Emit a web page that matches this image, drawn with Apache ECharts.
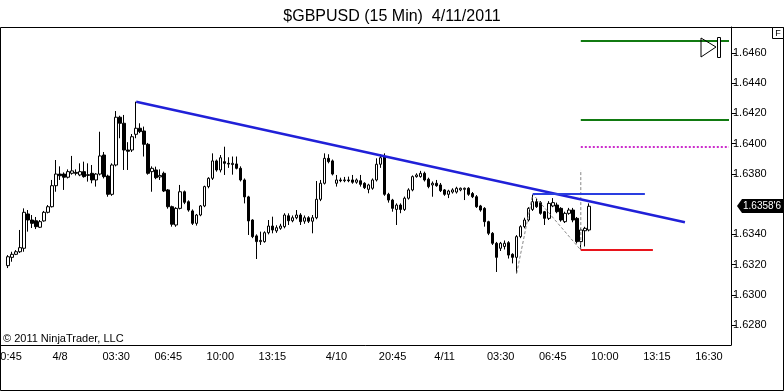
<!DOCTYPE html>
<html><head><meta charset="utf-8">
<script src="https://cdn.jsdelivr.net/npm/echarts@6/dist/echarts.min.js"></script>
<style>html,body{margin:0;padding:0;background:#fff}#c{width:784px;height:391px}</style>
</head><body><div id="c"></div>
<script>
// 15-minute sessions (day, first bar, last bar)
const sessionSpans = [['4/7','20:15','23:45'],['4/8','00:00','17:00'],['4/10','17:15','23:45'],['4/11','00:00','17:45']];
const firstCandle = '4/7 20:45';
const opens = [1.63193,1.63248,1.63268,1.63285,1.63308,1.63535,1.63495,1.63490,1.63447,1.63489,
1.63546,1.63583,1.63722,1.63799,1.63799,1.63778,1.63804,1.63810,1.63793,1.63815,
1.63790,1.63804,1.63760,1.63799,1.63925,1.63786,1.63665,1.63859,1.64175,1.64135,
1.63958,1.63958,1.64062,1.64102,1.64084,1.63996,1.63815,1.63826,1.63780,1.63804,
1.63694,1.63583,1.63462,1.63572,1.63682,1.63616,1.63555,1.63473,1.63528,1.63588,
1.63716,1.63771,1.63886,1.63826,1.63881,1.63870,1.63862,1.63866,1.63837,1.63760,
1.63648,1.63495,1.63390,1.63352,1.63352,1.63411,1.63455,1.63423,1.63440,1.63451,
1.63523,1.63490,1.63510,1.63528,1.63487,1.63510,1.63487,1.63510,1.63632,1.63738,
1.63903,1.63886,1.63738,1.63760,1.63755,1.63760,1.63760,1.63745,1.63755,1.63738,
1.63698,1.63705,1.63760,1.63864,1.63914,1.63665,1.63627,1.63565,1.63594,1.63565,
1.63639,1.63694,1.63782,1.63782,1.63804,1.63765,1.63727,1.63738,1.63727,1.63694,
1.63665,1.63680,1.63680,1.63694,1.63698,1.63705,1.63670,1.63649,1.63588,1.63572,
1.63484,1.63407,1.63341,1.63308,1.63320,1.63345,1.63268,1.63248,1.63385,1.63451,
1.63495,1.63565,1.63616,1.63610,1.63550,1.63506,1.63588,1.63594,1.63572,1.63484,
1.63539,1.63561,1.63506,1.63352,1.63424,1.63429];
const closes = [1.63252,1.63268,1.63285,1.63312,1.63546,1.63495,1.63473,1.63451,1.63484,1.63546,
1.63583,1.63722,1.63799,1.63788,1.63778,1.63815,1.63820,1.63804,1.63815,1.63782,
1.63795,1.63760,1.63799,1.63919,1.63782,1.63665,1.63859,1.64175,1.64135,1.63958,
1.63950,1.64046,1.64102,1.64080,1.63996,1.63804,1.63837,1.63775,1.63790,1.63687,
1.63583,1.63467,1.63572,1.63682,1.63612,1.63561,1.63473,1.63528,1.63588,1.63716,
1.63771,1.63886,1.63826,1.63907,1.63870,1.63865,1.63870,1.63837,1.63760,1.63648,
1.63489,1.63385,1.63352,1.63360,1.63411,1.63455,1.63429,1.63444,1.63455,1.63528,
1.63490,1.63510,1.63528,1.63484,1.63510,1.63487,1.63510,1.63632,1.63738,1.63903,
1.63881,1.63799,1.63760,1.63755,1.63760,1.63755,1.63745,1.63760,1.63731,1.63709,
1.63727,1.63760,1.63864,1.63907,1.63665,1.63627,1.63572,1.63594,1.63565,1.63639,
1.63694,1.63782,1.63793,1.63804,1.63760,1.63716,1.63738,1.63722,1.63689,1.63665,
1.63687,1.63694,1.63705,1.63705,1.63705,1.63665,1.63649,1.63583,1.63561,1.63484,
1.63407,1.63341,1.63248,1.63341,1.63341,1.63263,1.63248,1.63385,1.63451,1.63495,
1.63572,1.63616,1.63583,1.63539,1.63506,1.63605,1.63610,1.63550,1.63495,1.63539,
1.63561,1.63495,1.63352,1.63429,1.63440,1.63586];
const lows = [1.63177,1.63219,1.63263,1.63277,1.63285,1.63418,1.63442,1.63435,1.63442,1.63484,
1.63539,1.63578,1.63682,1.63760,1.63694,1.63770,1.63795,1.63790,1.63785,1.63775,
1.63749,1.63738,1.63716,1.63790,1.63770,1.63649,1.63655,1.63850,1.64036,1.63826,
1.63826,1.63945,1.64036,1.64070,1.63915,1.63795,1.63682,1.63765,1.63760,1.63680,
1.63570,1.63451,1.63450,1.63565,1.63600,1.63550,1.63462,1.63458,1.63520,1.63580,
1.63705,1.63760,1.63815,1.63810,1.63793,1.63840,1.63795,1.63830,1.63750,1.63605,
1.63396,1.63375,1.63237,1.63330,1.63345,1.63400,1.63407,1.63410,1.63430,1.63440,
1.63462,1.63480,1.63500,1.63462,1.63470,1.63475,1.63407,1.63500,1.63620,1.63730,
1.63870,1.63790,1.63716,1.63745,1.63745,1.63745,1.63735,1.63735,1.63716,1.63700,
1.63672,1.63695,1.63750,1.63840,1.63655,1.63610,1.63550,1.63462,1.63540,1.63555,
1.63630,1.63685,1.63775,1.63775,1.63750,1.63705,1.63649,1.63715,1.63680,1.63655,
1.63640,1.63670,1.63670,1.63685,1.63627,1.63655,1.63640,1.63575,1.63550,1.63451,
1.63395,1.63330,1.63151,1.63290,1.63300,1.63240,1.63208,1.63142,1.63375,1.63440,
1.63485,1.63555,1.63575,1.63530,1.63462,1.63495,1.63580,1.63540,1.63484,1.63475,
1.63530,1.63480,1.63340,1.63300,1.63320,1.63420];
const highs = [1.63263,1.63285,1.63296,1.63429,1.63572,1.63561,1.63528,1.63515,1.63495,1.63555,
1.63594,1.63760,1.63892,1.63850,1.63810,1.63830,1.63919,1.63830,1.63870,1.63881,
1.63870,1.63859,1.63805,1.64079,1.63945,1.63795,1.63870,1.64216,1.64185,1.64190,
1.64010,1.64064,1.64278,1.64135,1.64113,1.64005,1.63850,1.63848,1.63830,1.63815,
1.63700,1.63590,1.63580,1.63727,1.63690,1.63625,1.63565,1.63535,1.63594,1.63722,
1.63778,1.63936,1.63895,1.63925,1.63980,1.63910,1.63915,1.63915,1.63850,1.63770,
1.63655,1.63500,1.63400,1.63418,1.63420,1.63495,1.63517,1.63460,1.63470,1.63540,
1.63539,1.63525,1.63561,1.63540,1.63525,1.63520,1.63528,1.63753,1.63760,1.63936,
1.63930,1.63895,1.63793,1.63775,1.63780,1.63782,1.63793,1.63770,1.63793,1.63745,
1.63735,1.63770,1.63903,1.63930,1.63936,1.63675,1.63635,1.63605,1.63605,1.63650,
1.63705,1.63790,1.63804,1.63820,1.63815,1.63775,1.63750,1.63760,1.63740,1.63700,
1.63695,1.63705,1.63715,1.63710,1.63710,1.63712,1.63680,1.63660,1.63595,1.63580,
1.63490,1.63415,1.63350,1.63350,1.63360,1.63355,1.63275,1.63395,1.63460,1.63510,
1.63580,1.63661,1.63638,1.63620,1.63555,1.63620,1.63640,1.63610,1.63580,1.63550,
1.63575,1.63575,1.63515,1.63440,1.63450,1.63605];
// drawing objects [category, price]
const trendLine = [['4/8 04:45',1.64278],['4/11 15:00',1.63480]];
const blueLevel = [['4/11 05:30',1.63667],['4/11 12:30',1.63667]];
const redLevel = [['4/11 08:30',1.63296],['4/11 13:00',1.63296]];
const greenTop = [['4/11 08:30',1.64680],['4/11 17:45',1.64680]];
const greenMid = [['4/11 08:30',1.64157],['4/11 17:45',1.64157]];
const magentaLevel = [['4/11 08:30',1.63978],['4/11 17:45',1.63978]];
const zigzag = [['4/11 04:30',1.63142],['4/11 05:30',1.63667],['4/11 08:30',1.63296]];
const vertical = [['4/11 08:30',1.63296],['4/11 08:30',1.63826]];
const yTickValues = [1.6280,1.6300,1.6320,1.6340,1.6380,1.6400,1.6420,1.6440,1.6460];
const xTickCats = ['4/7 20:45','4/8 00:00','4/8 03:30','4/8 06:45','4/8 10:00','4/8 13:15','4/10 17:15','4/10 20:45','4/11 00:00','4/11 03:30','4/11 06:45','4/11 10:00','4/11 13:15','4/11 16:30'];
const xTickLabels = ['20:45','4/8','03:30','06:45','10:00','13:15','4/10','20:45','4/11','03:30','06:45','10:00','13:15','16:30'];

const cats = [];
const toM = s => +s.slice(0,2)*60 + +s.slice(3);
const pad = n => String(n).padStart(2,'0');
sessionSpans.forEach(([d,a,b]) => { for (let m = toM(a); m <= toM(b); m += 15) cats.push(d+' '+pad(Math.floor(m/60))+':'+pad(m%60)); });
const ci = name => cats.indexOf(name);
const start = ci(firstCandle);
const candles = opens.map((o,k) => [start+k, o, closes[k], lows[k], highs[k]]);
const pts = arr => arr.map(([c,v]) => [ci(c), v]);
const tickIdx = new Set(xTickCats.map(ci));
const FONT = 'Liberation Sans';

const chart = echarts.init(document.getElementById('c'), null, {renderer:'canvas'});
const lineS = (data, color, width, type, z) => ({type:'line', data:pts(data), symbol:'none', silent:true, z:z||5,
  lineStyle:{color, width, type:type||'solid'}, animation:false});
chart.setOption({
  animation:false,
  title:{text:'$GBPUSD (15 Min)  4/11/2011', left:'center', top:4,
    textStyle:{fontFamily:FONT, fontSize:16, fontWeight:'normal', color:'#000'}},
  grid:{left:-2, width:733, top:27, height:318, containLabel:false, outerBoundsMode:'none'},
  xAxis:{type:'category', data:cats, boundaryGap:true,
    axisLine:{lineStyle:{color:'#000', width:1}},
    axisTick:{alignWithLabel:true, length:5, lineStyle:{color:'#000'}, interval:(i)=>tickIdx.has(i)},
    axisLabel:{interval:(i)=>tickIdx.has(i), formatter:(v)=>xTickLabels[xTickCats.indexOf(v)]||'',
      fontFamily:FONT, fontSize:11, color:'#000', margin:6},
    splitLine:{show:false}},
  yAxis:{type:'value', position:'right', min:1.62668, max:1.64772, scale:true,
    axisLine:{show:true, lineStyle:{color:'#000', width:1}},
    axisTick:{show:true, length:5, lineStyle:{color:'#000'}, customValues:yTickValues},
    axisLabel:{customValues:yTickValues, formatter:(v)=>v.toFixed(4), fontFamily:FONT, fontSize:11, color:'#000', margin:2},
    splitLine:{show:false}},
  series:[
    {type:'candlestick', data:candles, encode:{x:0, y:[1,2,3,4]}, barWidth:3, z:2,
      itemStyle:{color:'#fff', color0:'#000', borderColor:'#000', borderColor0:'#000', borderWidth:1}},
    lineS(zigzag, '#888', 1, [3,2], 3),
    lineS(vertical, '#888', 1, [3,2], 3),
    lineS(trendLine, '#2020d8', 2.5),
    lineS(blueLevel, '#2a3ee0', 2),
    lineS(redLevel, '#e8141c', 2),
    lineS(greenTop, '#117a11', 2),
    lineS(greenMid, '#117a11', 2),
    lineS(magentaLevel, '#cc2ccc', 2, [2,2])
  ]
});
const last = closes[closes.length-1];
const py = Math.round(chart.convertToPixel({yAxisIndex:0}, last));
const s = last.toFixed(5);
const priceText = s.slice(0,6) + "'" + s.slice(6);
chart.setOption({graphic:[
  {type:'rect', shape:{x:0.5, y:27.5, width:783, height:363}, style:{fill:'none', stroke:'#000', lineWidth:1}, z:100},
  {type:'text', left:3, top:333, style:{text:'© 2011 NinjaTrader, LLC', font:'11px '+FONT, fill:'#000'}, z:100},
  {type:'polygon', shape:{points:[[737,py],[742,py-7],[784,py-7],[784,py+7],[742,py+7]]}, style:{fill:'#000'}, z:100},
  {type:'text', x:743, y:py, style:{text:priceText, font:'10px '+FONT, fill:'#fff', verticalAlign:'middle'}, z:101},
  {type:'rect', shape:{x:772.5, y:27.5, width:11, height:11}, style:{fill:'#fff', stroke:'#000'}, z:100},
  {type:'text', x:778, y:33.5, style:{text:'F', font:'9px '+FONT, fill:'#000', align:'center', verticalAlign:'middle'}, z:101},
  {type:'polygon', shape:{points:[[701,38],[716,47],[701,57]]}, style:{fill:'none', stroke:'#000', lineWidth:1}, z:100},
  {type:'rect', shape:{x:717.5, y:37.5, width:3, height:20}, style:{fill:'#fff', stroke:'#000', lineWidth:1}, z:100}
]});
</script></body></html>
